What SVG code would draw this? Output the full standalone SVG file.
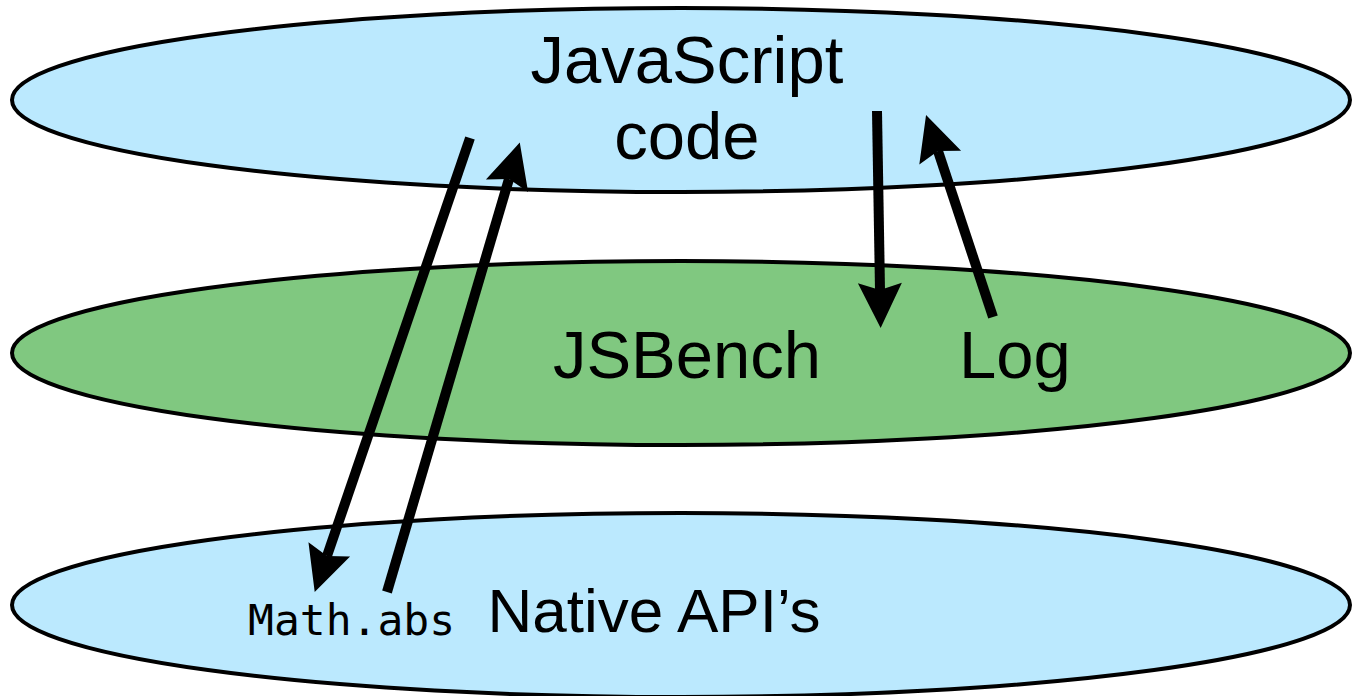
<svg xmlns="http://www.w3.org/2000/svg" width="1352" height="696" viewBox="0 0 1352 696">
  <style>
    .layer { stroke: #000; stroke-width: 4; }
    .blue { fill: #bbe9fe; }
    .green { fill: #80c880; }
    .label { font-family: "Liberation Sans", Arial, sans-serif; font-size: 67px; fill: #000; text-anchor: middle; }
    .mono { font-family: "DejaVu Sans Mono", "Liberation Mono", monospace; font-size: 43px; fill: #000; }
    .arrow { stroke: #000; stroke-width: 10; fill: none; marker-end: url(#head); }
  </style>
  <defs>
    <!-- notched arrowhead; the shaft stops at the notch, tip sits 38px further on -->
    <marker id="head" markerUnits="userSpaceOnUse" markerWidth="48" markerHeight="48" viewBox="-1 -24 48 48" refX="7" refY="0" orient="auto">
      <path d="M0,-22 L45,0 L0,22 L7,0 Z" fill="#000"/>
    </marker>
  </defs>

  <g id="javascript-code">
    <ellipse class="layer blue" cx="681" cy="100" rx="669" ry="92"/>
    <text class="label" x="687" y="83">JavaScript</text>
    <text class="label" x="687" y="159">code</text>
  </g>

  <g id="jsbench">
    <ellipse class="layer green" cx="681" cy="353" rx="669" ry="92"/>
    <text class="label" x="687" y="378">JSBench</text>
    <text class="label" x="1015" y="378">Log</text>
  </g>

  <g id="native-apis">
    <ellipse class="layer blue" cx="681" cy="605" rx="669" ry="92"/>
    <text class="mono" x="248" y="635">Math.abs</text>
    <text class="label" x="654" y="632" style="font-size:62px">Native API’s</text>
  </g>

  <g id="connectors">
    <!-- call into the native API and its return -->
    <path class="arrow" d="M470,138 L327,556"/>
    <path class="arrow" d="M387,592 L509,179"/>
    <!-- logging through JSBench -->
    <path class="arrow" d="M877,111 L880,290"/>
    <path class="arrow" d="M993,317 L938,151"/>
  </g>
</svg>
